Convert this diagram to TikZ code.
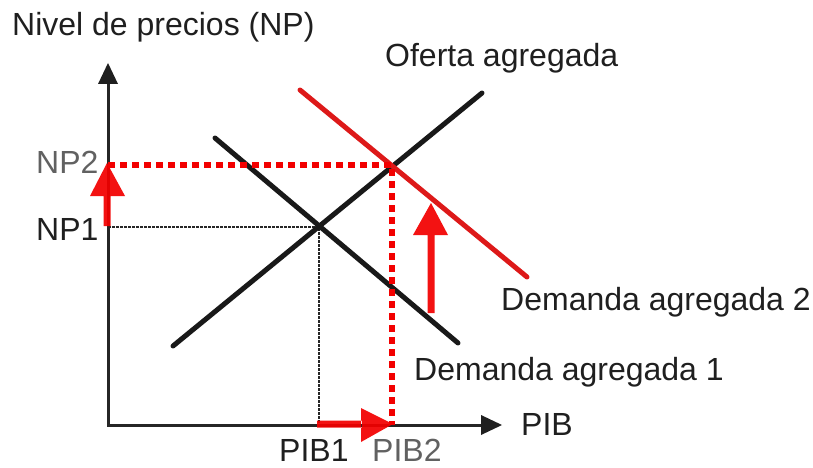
\documentclass[tikz,border=0pt]{standalone}
\usepackage{fontspec}
\setmainfont{Liberation Sans}
\begin{document}
\begin{tikzpicture}[x=1pt,y=-1pt,
  lbl/.style={anchor=base west,inner sep=0pt,text=black!88,font=\fontsize{32}{38}\selectfont},
  glbl/.style={lbl,text=black!62},
  curve/.style={line width=5pt,black!90,line cap=round},
  axisline/.style={line width=3pt,black!85},
  reddot/.style={line width=6pt,red!95!black,dash pattern=on 7pt off 5pt},
  blackdot/.style={line width=2.5pt,black!85,dash pattern=on 2.5pt off 1.5pt},
  redfill/.style={fill=red!95!black,opacity=0.93},
  axhead/.style={fill=black!88}]
\useasboundingbox (0,0) rectangle (813,468);
% coordinates
\coordinate (O) at (108,425);
\coordinate (Ytip) at (108,63);
\coordinate (Xtip) at (502,425);
\coordinate (E1) at (319,227);
\coordinate (E2) at (392,165);
\coordinate (NP1) at (108,227);
\coordinate (NP2) at (108,165);
\coordinate (PIB1) at (319,425);
\coordinate (PIB2) at (392,425);
\coordinate (D1a) at (215,138);
\coordinate (D1b) at (458,343);
\coordinate (Sa) at (173,346);
\coordinate (Sb) at (482,93);
\coordinate (D2a) at (300,90);
\coordinate (D2b) at (527,277);
% axes
\draw[axisline] (108,83) -- (O) -- (482,425);
\fill[axhead] (98,84) -- (Ytip) -- (118,84) -- cycle;
\fill[axhead] (481,415) -- (Xtip) -- (481,435) -- cycle;
% dotted guides
\draw[blackdot] (NP1) -- (E1) -- (PIB1);
% curves
\draw[curve] (D1a) -- (D1b);
\draw[curve] (Sa) -- (Sb);
\draw[line width=5pt,red!85!black!90,line cap=round] (D2a) -- (D2b);
% red dotted guides
\draw[reddot] (NP2) -- (E2) -- (PIB2);
% red arrows
\fill[redfill] (103.5,226) rectangle (110.5,195) (90,196) -- (107,163) -- (125,196) -- cycle;
\fill[redfill] (427.5,313) rectangle (434.5,234) (413,235) -- (431,203) -- (448,235) -- cycle;
\fill[redfill] (317,420.5) rectangle (362,427.5) (361,408) -- (393,424) -- (361,442) -- cycle;
% labels
\node[lbl] (tNP) at (12,36) {Nivel de precios (NP)};
\node[lbl] (tOA) at (385,67) {Oferta agregada};
\node[glbl] (tNP2) at (36,173) {NP2};
\node[lbl] (tNP1) at (36,240) {NP1};
\node[lbl] (tDA2) at (501,310) {Demanda agregada 2};
\node[lbl] (tDA1) at (414,380) {Demanda agregada 1};
\node[lbl] (tPIB) at (521,435) {PIB};
\node[lbl] (tPIB1) at (279,461) {PIB1};
\node[glbl] (tPIB2) at (372,461) {PIB2};
\end{tikzpicture}
\end{document}
